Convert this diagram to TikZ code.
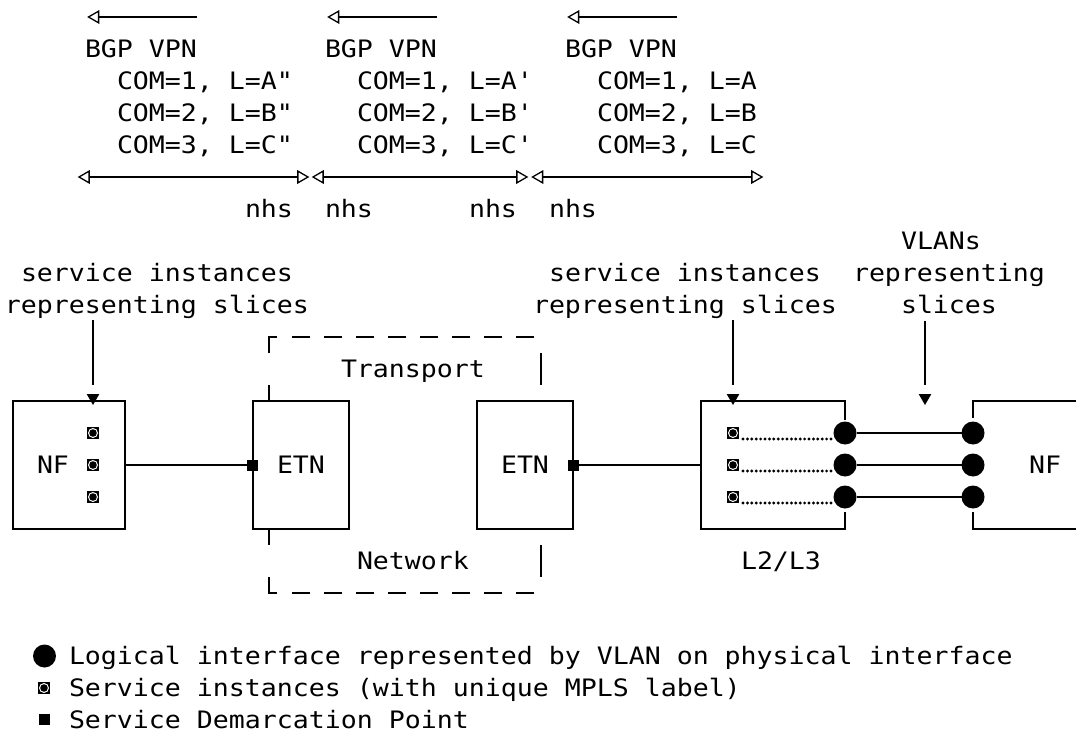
\documentclass[tikz,border=0pt]{standalone}
\usepackage{fontspec}
\setmonofont{DejaVu Sans Mono}[FakeStretch=1.107]
\usetikzlibrary{shapes.geometric}

\tikzset{
  txt/.style={font={\ttfamily\fontsize{24}{32}\selectfont}, anchor=base west, inner sep=0pt, outer sep=0pt},
  wire/.style={line width=1.8pt},
  box/.style={draw, line width=1.8pt, inner sep=0pt, outer sep=0pt, minimum height=128pt},
  ltip/.style={regular polygon, regular polygon sides=3, shape border rotate=90, draw, fill=white,
    line width=1.3pt, inner sep=0pt, outer sep=0pt, minimum size=13.5pt, anchor=corner 1},
  rtip/.style={ltip, shape border rotate=270},
  dntip/.style={regular polygon, regular polygon sides=3, shape border rotate=180, fill=black,
    inner sep=0pt, outer sep=0pt, minimum size=14.5pt, anchor=corner 1},
  lif/.style={circle, fill=black, inner sep=0pt, outer sep=0pt, minimum size=23pt},
  sdp/.style={rectangle, fill=black, inner sep=0pt, outer sep=0pt, minimum size=11pt},
  svcinst/.style={rectangle, fill=black, inner sep=0pt, outer sep=0pt, minimum size=12pt,
    path picture={\fill[white] (path picture bounding box.center) circle (5pt);
                  \fill[black] (path picture bounding box.center) circle (3.8pt);}},
  dotline/.style={line width=3.2pt, line cap=round, dash pattern=on 0pt off 4.4pt},
  tnline/.style={wire, dash pattern=on 18pt off 14pt}
}

\begin{document}
\begin{tikzpicture}[x=1pt, y=-1pt]
    \useasboundingbox (0,0) rectangle (1076,733);

    % BGP VPN advertisements:
    \coordinate (vpnA0) at (197,17); \node[ltip] (vpnA1) at (88.5,17) {};
    \coordinate (vpnB0) at (437,17); \node[ltip] (vpnB1) at (328.5,17) {};
    \coordinate (vpnC0) at (677,17); \node[ltip] (vpnC1) at (568.5,17) {};
    \draw[wire] (vpnA0) -- (vpnA1);
    \draw[wire] (vpnB0) -- (vpnB1);
    \draw[wire] (vpnC0) -- (vpnC1);
    \node[txt] (bgpA) at (85,57.75) {BGP VPN};
    \node[txt] (bgpB) at (325,57.75) {BGP VPN};
    \node[txt] (bgpC) at (565,57.75) {BGP VPN};
    \node[txt] (comA1) at (117,89.75) {COM=1, L=A"};
    \node[txt] (comA2) at (117,121.75) {COM=2, L=B"};
    \node[txt] (comA3) at (117,153.75) {COM=3, L=C"};
    \node[txt] (comB1) at (357,89.75) {COM=1, L=A'};
    \node[txt] (comB2) at (357,121.75) {COM=2, L=B'};
    \node[txt] (comB3) at (357,153.75) {COM=3, L=C'};
    \node[txt] (comC1) at (597,89.75) {COM=1, L=A};
    \node[txt] (comC2) at (597,121.75) {COM=2, L=B};
    \node[txt] (comC3) at (597,153.75) {COM=3, L=C};
    \node[ltip] (nhsA0) at (79,177) {}; \node[rtip] (nhsA1) at (308,177) {};
    \node[ltip] (nhsB0) at (313,177) {}; \node[rtip] (nhsB1) at (527,177) {};
    \node[ltip] (nhsC0) at (532.5,177) {}; \node[rtip] (nhsC1) at (762,177) {};
    \draw[wire] (nhsA0) -- (nhsA1);
    \draw[wire] (nhsB0) -- (nhsB1);
    \draw[wire] (nhsC0) -- (nhsC1);
    \node[txt] (nhs1) at (245,217.75) {nhs};
    \node[txt] (nhs2) at (325,217.75) {nhs};
    \node[txt] (nhs3) at (469,217.75) {nhs};
    \node[txt] (nhs4) at (549,217.75) {nhs};

    % Labels above the boxes:
    \node[txt] (svcL1) at (21,281.75) {service instances};
    \node[txt] (svcL2) at (5,313.75) {representing slices};
    \node[txt] (svcR1) at (549,281.75) {service instances};
    \node[txt] (svcR2) at (533,313.75) {representing slices};
    \node[txt] (vlan1) at (901,249.75) {VLANs};
    \node[txt] (vlan2) at (853,281.75) {representing};
    \node[txt] (vlan3) at (901,313.75) {slices};

    % Boxes:
    \node[box, minimum width=112pt] (nfA) at (69,465) {};
    \node[box, minimum width=96pt] (etnA) at (301,465) {};
    \node[box, minimum width=96pt] (etnB) at (525,465) {};
    \node[box, draw=none, minimum width=144pt] (l2l3) at (773,465) {};
    \node[box, draw=none, minimum width=120pt] (nfB) at (1033,465) {};
    \draw[wire] ([yshift=-19pt]l2l3.north east) -- (l2l3.north east) -- (l2l3.north west)
        -- (l2l3.south west) -- (l2l3.south east) -- ([yshift=17pt]l2l3.south east);
    \draw[wire] (nfB.north east) -- (nfB.north west) -- ([yshift=-17pt]nfB.north west);
    \draw[wire] (nfB.south east) -- (nfB.south west) -- ([yshift=17pt]nfB.south west);
    \node[txt] (nfAtxt) at (37,473.75) {NF};
    \node[txt] (etnAtxt) at (277,473.75) {ETN};
    \node[txt] (etnBtxt) at (501,473.75) {ETN};
    \node[txt] (nfBtxt) at (1029,473.75) {NF};
    \node[txt] (l2l3txt) at (741,569.75) {L2/L3};

    % Transport network boundary:
    \draw[wire] (269,353) -- (269,337) -- (277,337);
    \draw[tnline] (292,337) -- (534,337);
    \draw[wire] (269,577) -- (269,593) -- (277,593);
    \draw[tnline] (292,593) -- (534,593);
    \draw[wire] ([xshift=16pt]etnA.north west) -- ++(0,-16);
    \draw[wire] ([xshift=16pt]etnA.south west) -- ++(0,16);
    \draw[wire] (541,353) -- (541,385);
    \draw[wire] (541,545) -- (541,577);
    \node[txt] (trp) at (341,377.75) {Transport};
    \node[txt] (ntw) at (357,569.75) {Network};

    % Service instances, demarcation points and logical interfaces:
    \node[svcinst] (siA1) at (93,433) {};
    \node[svcinst] (siA2) at (93,465) {};
    \node[svcinst] (siA3) at (93,497) {};
    \node[svcinst] (siB1) at (733,433) {};
    \node[svcinst] (siB2) at (733,465) {};
    \node[svcinst] (siB3) at (733,497) {};
    \node[sdp] (sdpA) at (252,465) {};
    \node[sdp] (sdpB) at (573,465) {};
    \node[lif] (liA1) at (845,433) {};
    \node[lif] (liA2) at (845,465) {};
    \node[lif] (liA3) at (845,497) {};
    \node[lif] (liB1) at (973,433) {};
    \node[lif] (liB2) at (973,465) {};
    \node[lif] (liB3) at (973,497) {};
    \draw[wire] (nfA.east) -- (sdpA.west);
    \draw[wire] (sdpB.east) -- (l2l3.west);
    \draw[dotline] ([xshift=4pt,yshift=-6pt]siB1.east) -- ([yshift=-6pt]liA1.west);
    \draw[dotline] ([xshift=4pt,yshift=-6pt]siB2.east) -- ([yshift=-6pt]liA2.west);
    \draw[dotline] ([xshift=4pt,yshift=-6pt]siB3.east) -- ([yshift=-6pt]liA3.west);
    \draw[wire] (liA1) -- (liB1);
    \draw[wire] (liA2) -- (liB2);
    \draw[wire] (liA3) -- (liB3);

    % Pointers from the labels:
    \node[dntip] (dnA) at (93,405) {};
    \node[dntip] (dnB) at (733,405) {};
    \node[dntip] (dnC) at (925,405) {};
    \draw[wire] (svcL2.south -| dnA.center) ++(0,1.5) -- ([yshift=20pt]dnA.corner 1);
    \draw[wire] (svcR2.south -| dnB.center) ++(0,1.5) -- ([yshift=20pt]dnB.corner 1);
    \draw[wire] (vlan3.south -| dnC.center) ++(0,7) -- ([yshift=20pt]dnC.corner 1);

    % Legend:
    \node[lif] (keyLif) at (44.5,656) {};
    \node[txt] (keyLifTxt) at (69,664.5) {Logical interface represented by VLAN on physical interface};
    \node[svcinst] (keySvc) at (44,688) {};
    \node[txt] (keySvcTxt) at (69,696.5) {Service instances (with unique MPLS label)};
    \node[sdp] (keySdp) at (44,719.5) {};
    \node[txt] (keySdpTxt) at (69,728) {Service Demarcation Point};
\end{tikzpicture}
\end{document}
